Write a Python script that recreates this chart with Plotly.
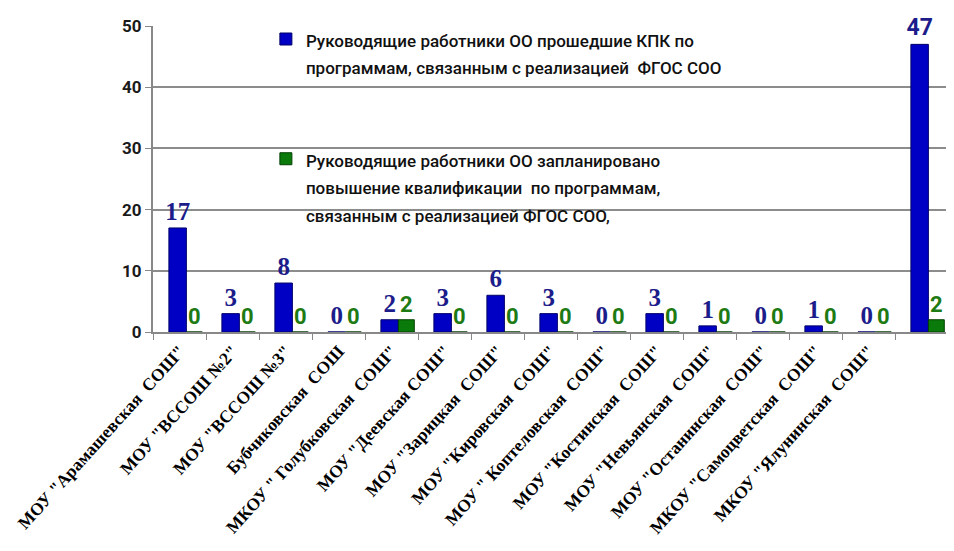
import plotly.graph_objects as go

categories = [
    'МОУ "Арамашевская  СОШ"',
    'МОУ "ВССОШ №2"',
    'МОУ "ВССОШ №3"',
    'Бубчиковская  СОШ',
    'МКОУ " Голубковская  СОШ"',
    'МОУ "Деевская СОШ"',
    'МОУ "Зарицкая  СОШ"',
    'МОУ "Кировская  СОШ"',
    'МОУ " Коптеловская  СОШ"',
    'МОУ "Костинская  СОШ"',
    'МОУ "Невьянская  СОШ"',
    'МОУ "Останинская  СОШ"',
    'МКОУ "Самоцветская  СОШ"',
    'МКОУ "Ялунинская  СОШ"',
    ' ',
]
trained = [17, 3, 8, 0, 2, 3, 6, 3, 0, 3, 1, 0, 1, 0, 47]
planned = [0, 0, 0, 0, 2, 0, 0, 0, 0, 0, 0, 0, 0, 0, 2]
series_lines = [
    ["Руководящие работники ОО прошедшие КПК по",
     "программам, связанным с реализацией  ФГОС СОО"],
    ["Руководящие работники ОО запланировано",
     "повышение квалификации  по программам,",
     "связанным с реализацией ФГОС СОО,"],
]
y_ticks = [0, 10, 20, 30, 40, 50]


def legend_name(lines):
    return "<br>".join(f"<span style='font-size:17px'>{ln}</span>" for ln in lines)


serif = "Liberation Serif"
sans = "Roboto"
n = len(categories)
blue_fams = [serif] * (n - 1) + [sans]
blue_sizes = [25] * (n - 1) + [23]

fig = go.Figure()
fig.add_trace(go.Bar(
    x=categories, y=trained, name=legend_name(series_lines[0]),
    width=0.33, offset=-0.2,
    marker=dict(color="#0000c4", line=dict(color="#00006a", width=1)),
    text=trained, textposition="outside", cliponaxis=False, constraintext="none",
    textfont=dict(family=blue_fams, size=blue_sizes, color="#1c1c8a", weight="bold"),
    legend="legend",
))
fig.add_trace(go.Bar(
    x=categories, y=planned, name=legend_name(series_lines[1]),
    width=0.3, offset=0.13,
    marker=dict(color="#0a7a0a", line=dict(color="#034003", width=1)),
    text=planned, textposition="outside", cliponaxis=False, constraintext="none",
    textfont=dict(family=sans, size=22, color="#1e7a12", weight="bold"),
    legend="legend2",
))

legend_font = dict(family="Roboto, sans-serif", size=21, color="#111111", weight=500)
fig.update_layout(
    width=954, height=551,
    margin=dict(l=145, r=14, t=17, b=227),
    paper_bgcolor="white", plot_bgcolor="white",
    barmode="group",
    showlegend=True,
    legend=dict(x=0.142, y=1.02, xanchor="left", yanchor="top", valign="top",
                font=legend_font, bgcolor="rgba(0,0,0,0)"),
    legend2=dict(x=0.142, y=0.63, xanchor="left", yanchor="top", valign="top",
                 font=legend_font, bgcolor="rgba(0,0,0,0)"),
    xaxis=dict(
        tickangle=-48, showline=True, linecolor="#888888", linewidth=2,
        ticks="outside", ticklen=6, tickcolor="#888888", tickson="boundaries",
        tickfont=dict(family=serif, size=17.5, color="#000000", weight="bold"),
        showgrid=False, automargin=False,
    ),
    yaxis=dict(
        range=[0, 50], tickvals=y_ticks, showline=True, linecolor="#888888", linewidth=2,
        ticks="outside", ticklen=6, tickcolor="#888888",
        tickfont=dict(family=sans, size=17, color="#1a1a1a", weight="bold"),
        showgrid=True, gridcolor="#8c8c8c", gridwidth=1.5, zeroline=False,
        automargin=False,
    ),
)

fig.write_html("out.html")
